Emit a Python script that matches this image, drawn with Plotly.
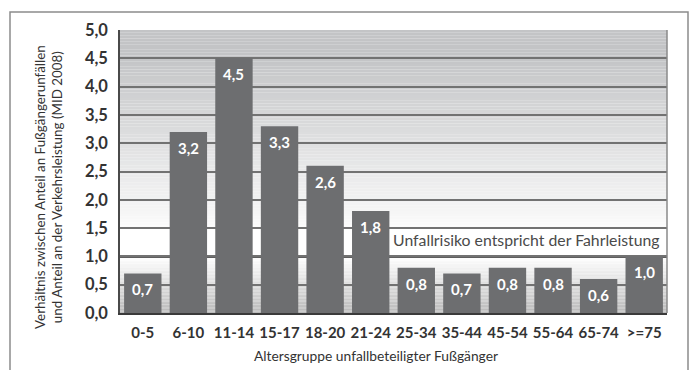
import plotly.graph_objects as go

# Data: ratio of share in pedestrian accidents to share in traffic volume (MID 2008)
age_groups = ["0-5", "6-10", "11-14", "15-17", "18-20", "21-24",
              "25-34", "35-44", "45-54", "55-64", "65-74", ">=75"]
risk_ratio = [0.7, 3.2, 4.5, 3.3, 2.6, 1.8, 0.8, 0.7, 0.8, 0.8, 0.6, 1.0]
y_ticks = [0.0, 0.5, 1.0, 1.5, 2.0, 2.5, 3.0, 3.5, 4.0, 4.5, 5.0]

W, H = 694, 370
L, R, T, B = 120, 27, 30, 57
plot_w = W - L - R
plot_h = H - T - B

FONT = "Lato"
BAR = "#6d6e70"
GRID = "#727272"

x_pos = list(range(len(age_groups)))

fig = go.Figure()
fig.add_trace(go.Bar(
    x=x_pos, y=risk_ratio, width=0.82,
    marker=dict(color=BAR, line=dict(width=0)),
    hoverinfo="skip",
))


def mix(c1, c2, t):
    a = [int(c1[i:i + 2], 16) for i in (1, 3, 5)]
    b = [int(c2[i:i + 2], 16) for i in (1, 3, 5)]
    return "#" + "".join(f"{round(a[k] + (b[k] - a[k]) * t):02x}" for k in range(3))


shapes = []
# upper background: grey at the top fading to white towards 1.5
n = 70
lo, hi = 1.5, 5.0
for k in range(n):
    y0 = lo + (hi - lo) * k / n
    y1 = lo + (hi - lo) * (k + 1) / n
    t = (k + 0.5) / n
    shapes.append(dict(type="rect", xref="x domain", yref="y", x0=0, x1=1,
                       y0=y0, y1=y1, layer="below", line=dict(width=0),
                       fillcolor=mix("#fbfbfb", "#c3c4c6", min(1, t * 1.15))))
# white band 1.0 - 1.5
shapes.append(dict(type="rect", xref="x domain", yref="y", x0=0, x1=1,
                   y0=1.0, y1=1.5, layer="below", line=dict(width=0),
                   fillcolor="#ffffff"))
# lower background: white at 1.0 fading to grey at 0
n = 40
for k in range(n):
    y0 = 1.0 * k / n
    y1 = 1.0 * (k + 1) / n
    t = (k + 0.5) / n
    shapes.append(dict(type="rect", xref="x domain", yref="y", x0=0, x1=1,
                       y0=y0, y1=y1, layer="below", line=dict(width=0),
                       fillcolor=mix("#b9b9b9", "#ffffff", t)))
# emphasised reference line at ratio 1.0
shapes.append(dict(type="line", xref="x domain", yref="y", x0=0, x1=1,
                   y0=1.0, y1=1.0, layer="below",
                   line=dict(color="#5e5e5e", width=3)))
# right border of the plot area
shapes.append(dict(type="line", xref="x domain", yref="y", x0=1, x1=1,
                   y0=0, y1=5, layer="above",
                   line=dict(color="#8a8a8a", width=1.5)))
# outer frame
shapes.append(dict(type="rect", xref="paper", yref="paper",
                   x0=(10 - L) / plot_w, x1=(688 - L) / plot_w,
                   y0=-0.4, y1=(H - B - 12) / plot_h,
                   line=dict(color="#8c8c8c", width=1.5), fillcolor="rgba(0,0,0,0)"))

annotations = []
for i, v in zip(x_pos, risk_ratio):
    annotations.append(dict(
        x=i, y=v, xref="x", yref="y", text=f"{v:.1f}".replace(".", ","),
        showarrow=False, yanchor="middle", yshift=-16,
        font=dict(family=FONT, size=15, color="#ffffff", weight="bold"),
    ))

annotations.append(dict(
    x=1, y=1.3, xref="x domain", yref="y", xanchor="right", yanchor="middle",
    xshift=-5, showarrow=False,
    text="Unfallrisiko entspricht der Fahrleistung",
    font=dict(family=FONT, size=15.8, color="#4a4a4a"),
))

annotations.append(dict(
    x=(376 - L) / plot_w, y=-(355 - (H - B)) / plot_h, xref="paper", yref="paper",
    xanchor="center", yanchor="middle", showarrow=False,
    text="Altersgruppe unfallbeteiligter Fußgänger",
    font=dict(family=FONT, size=13.8, color="#333333"),
))

annotations.append(dict(
    x=(49 - L) / plot_w, y=((H - B) - 187) / plot_h, xref="paper", yref="paper",
    xanchor="center", yanchor="middle", showarrow=False, textangle=-90,
    text="Verhältnis zwischen Anteil an Fußgängerunfällen<br>"
         "und Anteil an der Verkehrsleistung (MID 2008)",
    font=dict(family=FONT, size=13.4, color="#333333"),
))

fig.update_layout(
    width=W, height=H,
    margin=dict(l=L, r=R, t=T, b=B, pad=0),
    paper_bgcolor="#ffffff", plot_bgcolor="#ffffff",
    separators=",.",
    showlegend=False,
    bargap=0.18,
    shapes=shapes,
    annotations=annotations,
    xaxis=dict(
        range=[-0.5, len(age_groups) - 0.5],
        tickmode="array", tickvals=x_pos, ticktext=age_groups,
        showgrid=False, zeroline=False,
        showline=True, linecolor="#3a3a3a", linewidth=2,
        ticks="", ticklabelstandoff=5,
        tickfont=dict(family=FONT, size=15, color="#333333", weight="bold"),
        fixedrange=True,
    ),
    yaxis=dict(
        range=[0, 5.0],
        tickmode="array", tickvals=y_ticks, tickformat=".1f",
        showgrid=True, gridcolor=GRID, gridwidth=1.5,
        zeroline=False,
        showline=True, linecolor="#4a4a4a", linewidth=1.5,
        ticks="", ticklabelstandoff=7,
        tickfont=dict(family=FONT, size=16.5, color="#333333", weight="bold"),
        fixedrange=True,
    ),
)

fig.write_html("out.html")
